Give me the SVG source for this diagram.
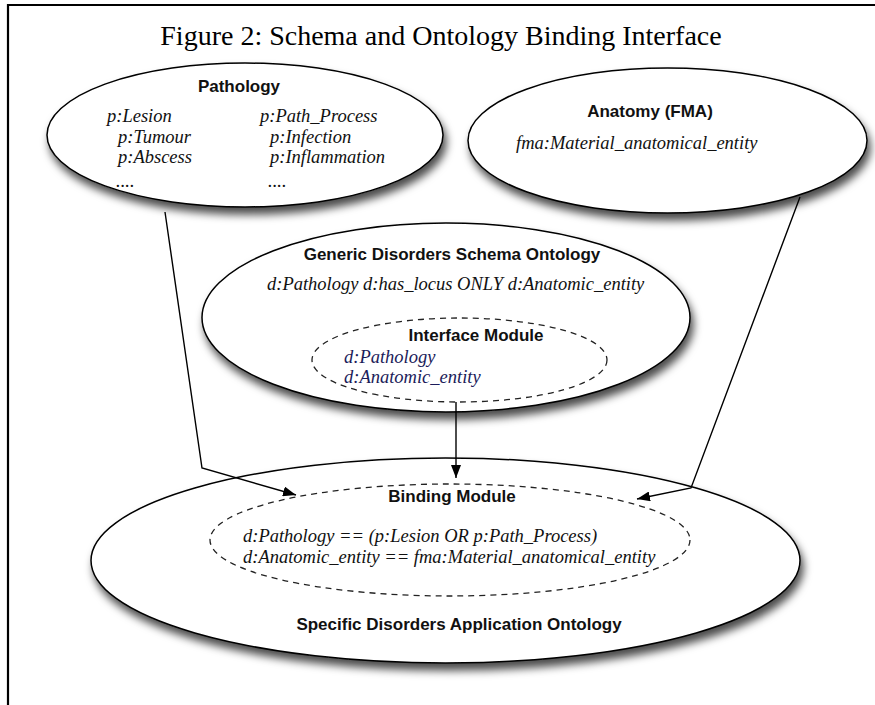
<svg xmlns="http://www.w3.org/2000/svg" width="875" height="705" viewBox="0 0 875 705">
<defs>
<filter id="sh" x="-10%" y="-10%" width="125%" height="135%">
<feDropShadow dx="3" dy="7" stdDeviation="4" flood-color="#000" flood-opacity="0.7"/>
</filter>
<marker id="arr" viewBox="0 0 13 10" refX="13" refY="5" markerWidth="13" markerHeight="10" markerUnits="userSpaceOnUse" orient="auto">
<path d="M0,0 L13,5 L0,10 Z" fill="#000"/>
</marker>
<style>
.ell{fill:#fff;stroke:#000;stroke-width:1.5;filter:url(#sh)}
.dash{fill:none;stroke:#222;stroke-width:1.3;stroke-dasharray:6,5}
.b{font-family:"Liberation Sans",Arial,sans-serif;font-weight:bold;font-size:17px;fill:#111;text-anchor:middle}
.i{font-family:"Liberation Serif","Times New Roman",serif;font-style:italic;font-size:18.5px;fill:#111}
.blue{fill:#1c1c5a}
.title{font-family:"Liberation Serif","Times New Roman",serif;font-size:28px;fill:#000;text-anchor:middle}
.conn{fill:none;stroke:#000;stroke-width:1.4}
</style>
</defs>
<rect width="875" height="705" fill="#fff"/>
<path d="M8,705 V5 H875" fill="none" stroke="#000" stroke-width="2.2"/>
<text class="title" x="441" y="45">Figure 2: Schema and Ontology Binding Interface</text>

<g id="specific">
<ellipse class="ell" cx="445.5" cy="560.5" rx="354.5" ry="102.5"/>
<text class="b" x="459" y="630">Specific Disorders Application Ontology</text>
</g>
<g id="binding">
<ellipse class="dash" cx="450" cy="540" rx="240" ry="56"/>
<text class="b" x="452" y="502">Binding Module</text>
<text class="i" x="243" y="542">d:Pathology == (p:Lesion OR p:Path_Process)</text>
<text class="i" x="243" y="563">d:Anatomic_entity == fma:Material_anatomical_entity</text>
</g>

<g id="pathology">
<ellipse class="ell" cx="245" cy="135" rx="198" ry="72"/>
<text class="b" x="239" y="92">Pathology</text>
<text class="i" x="107" y="122">p:Lesion</text>
<text class="i" x="118" y="143">p:Tumour</text>
<text class="i" x="118" y="163">p:Abscess</text>
<text class="i" x="116" y="187">....</text>
<text class="i" x="260" y="122">p:Path_Process</text>
<text class="i" x="270" y="143">p:Infection</text>
<text class="i" x="270" y="163">p:Inflammation</text>
<text class="i" x="268" y="187">....</text>
</g>

<g id="anatomy">
<ellipse class="ell" cx="667.5" cy="140.5" rx="199.5" ry="72.5"/>
<text class="b" x="650" y="117">Anatomy (FMA)</text>
<text class="i" x="516" y="149">fma:Material_anatomical_entity</text>
</g>

<g id="generic">
<ellipse class="ell" cx="446" cy="317.5" rx="244" ry="94.5"/>
<text class="b" x="452" y="260">Generic Disorders Schema Ontology</text>
<text class="i" x="267" y="290">d:Pathology d:has_locus ONLY d:Anatomic_entity</text>
</g>
<g id="interface">
<ellipse class="dash" cx="459.5" cy="360" rx="147.5" ry="42"/>
<text class="b" x="476" y="341">Interface Module</text>
<text class="i blue" x="344" y="363">d:Pathology</text>
<text class="i blue" x="344" y="383">d:Anatomic_entity</text>
</g>

<g id="connectors">
<path class="conn" d="M165,212 L202,468 L296,495" marker-end="url(#arr)"/>
<path class="conn" d="M456,402 V478" marker-end="url(#arr)"/>
<path class="conn" d="M800,197 L691,488 L637,499" marker-end="url(#arr)"/>
</g>
</svg>
